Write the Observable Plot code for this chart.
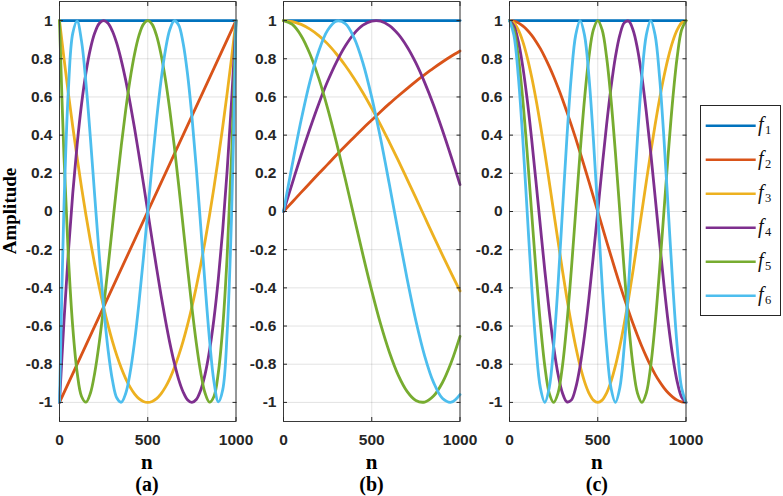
<!DOCTYPE html>
<html><head><meta charset="utf-8">
<script src="https://cdn.jsdelivr.net/npm/d3@7"></script>
<script src="https://cdn.jsdelivr.net/npm/@observablehq/plot@0.6"></script>
<style>
html,body{margin:0;padding:0;background:#fff;}
#wrap{position:relative;width:783px;height:496px;overflow:hidden;background:#fff;}
</style></head><body><div id="wrap"></div>
<script>
// ---- sample positions (n) ----
const nEnds = [0, 1000];
const nFine = [0,25,50,75,100,125,150,175,200,225,250,275,300,325,350,375,400,425,450,475,500,525,550,575,600,625,650,675,700,725,750,775,800,825,850,875,900,925,950,975,1000];
const nCoarse = [0,50,100,150,200,250,300,350,400,450,500,550,600,650,700,750,800,850,900,950,1000];

// ---- f1 (same in every panel) ----
const f1 = [1, 1];

// ---- panel (a) ----
const a2 = [-1, 1];
const a3 = [1,0.805,0.62,0.445,0.28,0.125,-0.02,-0.155,-0.28,-0.395,-0.5,-0.595,-0.68,-0.755,-0.82,-0.875,-0.92,-0.955,-0.98,-0.995,-1,-0.995,-0.98,-0.955,-0.92,-0.875,-0.82,-0.755,-0.68,-0.595,-0.5,-0.395,-0.28,-0.155,-0.02,0.125,0.28,0.445,0.62,0.805,1];
const a4 = [-1,-0.58,-0.216,0.094,0.352,0.563,0.728,0.852,0.936,0.985,1,0.986,0.944,0.879,0.792,0.688,0.568,0.437,0.296,0.15,0,-0.15,-0.296,-0.437,-0.568,-0.688,-0.792,-0.879,-0.944,-0.986,-1,-0.985,-0.936,-0.852,-0.728,-0.563,-0.352,-0.094,0.216,0.58,1];
const a5 = [1,0.296,-0.231,-0.604,-0.843,-0.969,-0.999,-0.952,-0.843,-0.688,-0.5,-0.292,-0.075,0.14,0.345,0.531,0.693,0.824,0.921,0.98,1,0.98,0.921,0.824,0.693,0.531,0.345,0.14,-0.075,-0.292,-0.5,-0.688,-0.843,-0.952,-0.999,-0.969,-0.843,-0.604,-0.231,0.296,1];
const a6 = [-1,0.017,0.632,0.933,0.997,0.891,0.671,0.386,0.076,-0.228,-0.5,-0.723,-0.884,-0.977,-0.999,-0.953,-0.845,-0.684,-0.48,-0.248,0,0.248,0.48,0.684,0.845,0.953,0.999,0.977,0.884,0.723,0.5,0.228,-0.076,-0.386,-0.671,-0.891,-0.997,-0.933,-0.632,-0.017,1];

// ---- panel (b) ----
const b2 = [0,0.05,0.1,0.149,0.199,0.247,0.296,0.343,0.389,0.435,0.479,0.523,0.565,0.605,0.644,0.682,0.717,0.751,0.783,0.813,0.841];
const b3 = [1,0.995,0.98,0.955,0.921,0.878,0.825,0.765,0.697,0.622,0.54,0.454,0.362,0.268,0.17,0.071,-0.029,-0.129,-0.227,-0.323,-0.416];
const b4 = [0,0.149,0.296,0.435,0.565,0.682,0.783,0.867,0.932,0.976,0.997,0.997,0.974,0.929,0.863,0.778,0.675,0.558,0.427,0.287,0.141];
const b5 = [1,0.98,0.921,0.825,0.697,0.54,0.362,0.17,-0.029,-0.227,-0.416,-0.589,-0.737,-0.857,-0.942,-0.99,-0.998,-0.967,-0.897,-0.791,-0.654];
const b6 = [0,0.247,0.479,0.682,0.841,0.949,0.997,0.984,0.909,0.778,0.598,0.382,0.141,-0.108,-0.351,-0.572,-0.757,-0.895,-0.978,-0.999,-0.959];

// ---- panel (c) ----
const c2 = [1,0.997,0.988,0.972,0.951,0.924,0.891,0.853,0.809,0.76,0.707,0.649,0.588,0.522,0.454,0.383,0.309,0.233,0.156,0.078,0,-0.078,-0.156,-0.233,-0.309,-0.383,-0.454,-0.522,-0.588,-0.649,-0.707,-0.76,-0.809,-0.853,-0.891,-0.924,-0.951,-0.972,-0.988,-0.997,-1];
const c3 = [1,0.988,0.951,0.891,0.809,0.707,0.588,0.454,0.309,0.156,0,-0.156,-0.309,-0.454,-0.588,-0.707,-0.809,-0.891,-0.951,-0.988,-1,-0.988,-0.951,-0.891,-0.809,-0.707,-0.588,-0.454,-0.309,-0.156,0,0.156,0.309,0.454,0.588,0.707,0.809,0.891,0.951,0.988,1];
const c4 = [1,0.972,0.891,0.76,0.588,0.383,0.156,-0.078,-0.309,-0.522,-0.707,-0.853,-0.951,-0.997,-0.988,-0.924,-0.809,-0.649,-0.454,-0.233,0,0.233,0.454,0.649,0.809,0.924,0.988,0.997,0.951,0.853,0.707,0.522,0.309,0.078,-0.156,-0.383,-0.588,-0.76,-0.891,-0.972,-1];
const c5 = [1,0.951,0.809,0.588,0.309,0,-0.309,-0.588,-0.809,-0.951,-1,-0.951,-0.809,-0.588,-0.309,0,0.309,0.588,0.809,0.951,1,0.951,0.809,0.588,0.309,0,-0.309,-0.588,-0.809,-0.951,-1,-0.951,-0.809,-0.588,-0.309,0,0.309,0.588,0.809,0.951,1];
const c6 = [1,0.924,0.707,0.383,0,-0.383,-0.707,-0.924,-1,-0.924,-0.707,-0.383,0,0.383,0.707,0.924,1,0.924,0.707,0.383,0,-0.383,-0.707,-0.924,-1,-0.924,-0.707,-0.383,0,0.383,0.707,0.924,1,0.924,0.707,0.383,0,-0.383,-0.707,-0.924,-1];

// ---- labels / ticks ----
const xTicks = [0, 500, 1000];
const yTicks = [-1, -0.8, -0.6, -0.4, -0.2, 0, 0.2, 0.4, 0.6, 0.8, 1];
const seriesIndex = ["1", "2", "3", "4", "5", "6"];
const seriesColors = ["#0072BD", "#D95319", "#EDB120", "#7E2F8E", "#77AC30", "#4DBEEE"];
const panelLabels = ["(a)", "(b)", "(c)"];
const xLabel = "n";
const yLabel = "Amplitude";

const panels = [
  [[nEnds, f1], [nEnds, a2], [nFine, a3], [nFine, a4], [nFine, a5], [nFine, a6]],
  [[nEnds, f1], [nCoarse, b2], [nCoarse, b3], [nCoarse, b4], [nCoarse, b5], [nCoarse, b6]],
  [[nEnds, f1], [nFine, c2], [nFine, c3], [nFine, c4], [nFine, c5], [nFine, c6]]
];
const frameLefts = [58.7, 283.3, 508.6];

const ML = 55, MR = 25, MT = 1, MB = 30, IW = 176.5, IH = 420;
const wrap = document.getElementById("wrap");

panels.forEach((series, p) => {
  const svg = Plot.plot({
    width: ML + IW + MR, height: MT + IH + MB,
    marginLeft: ML, marginRight: MR, marginTop: MT, marginBottom: MB,
    x: {domain: [0, 1000]},
    y: {domain: [-1.1, 1.1]},
    style: {background: "transparent", fontFamily: "'Liberation Sans', Arial, sans-serif", fontSize: "15.5px", fontWeight: "bold", color: "#262626"},
    marks: [
      Plot.gridX(xTicks, {stroke: "#262626", strokeOpacity: 0.13}),
      Plot.gridY(yTicks, {stroke: "#262626", strokeOpacity: 0.13}),
      ...series.map(([xs, ys], i) => Plot.line(ys, {x: xs, y: d => d, stroke: seriesColors[i], strokeWidth: 2.8, curve: "catmull-rom"})),
      Plot.frame({stroke: "#3a3a3a", strokeWidth: 1}),
      Plot.axisX(xTicks, {anchor: "bottom", tickSize: -4, tickPadding: 16.8, tickFormat: d => String(d), label: null}),
      Plot.axisX(xTicks, {anchor: "top", tickSize: -4, tickFormat: () => "", label: null}),
      Plot.axisY(yTicks, {anchor: "left", tickSize: -4, tickPadding: 11, tickFormat: d => String(d), label: null}),
      Plot.axisY(yTicks, {anchor: "right", tickSize: -4, tickFormat: () => "", label: null})
    ]
  });
  svg.style.position = "absolute";
  svg.style.left = (frameLefts[p] - ML) + "px";
  svg.style.top = "0px";
  wrap.appendChild(svg);
});

// ---- overlay: axis titles, panel labels, legend ----
const ov = d3.select(wrap).append("svg")
  .attr("width", 783).attr("height", 496)
  .style("position", "absolute").style("left", "0px").style("top", "0px");

const serif = "'Liberation Serif', 'Times New Roman', serif";
ov.append("text")
  .attr("transform", `translate(16, ${MT + IH / 2}) rotate(-90)`)
  .attr("text-anchor", "middle")
  .style("font-family", serif).style("font-weight", "bold").style("font-size", "19px")
  .text(yLabel);

frameLefts.forEach((fl, p) => {
  const cx = fl + IW / 2;
  ov.append("text").attr("x", cx).attr("y", 469).attr("text-anchor", "middle")
    .style("font-family", serif).style("font-weight", "bold").style("font-size", "21px").text(xLabel);
  ov.append("text").attr("x", cx).attr("y", 490.5).attr("text-anchor", "middle")
    .style("font-family", serif).style("font-weight", "bold").style("font-size", "20px").text(panelLabels[p]);
});

const lg = ov.append("g");
lg.append("rect").attr("x", 700.5).attr("y", 105.5).attr("width", 80).attr("height", 210)
  .attr("fill", "#fff").attr("stroke", "#262626").attr("stroke-width", 1);
seriesIndex.forEach((s, i) => {
  const y = 125.7 + 34 * i;
  lg.append("line").attr("x1", 705.7).attr("x2", 755.7).attr("y1", y).attr("y2", y)
    .attr("stroke", seriesColors[i]).attr("stroke-width", 2.4);
  const t = lg.append("text").attr("x", 758).attr("y", y + 5)
    .style("font-family", serif).style("font-size", "20px").attr("fill", "#111");
  t.append("tspan").style("font-style", "italic").text("f");
  t.append("tspan").attr("dx", 1.5).attr("dy", 3.2).style("font-size", "12.5px").text(s);
});
</script>
</body></html>
